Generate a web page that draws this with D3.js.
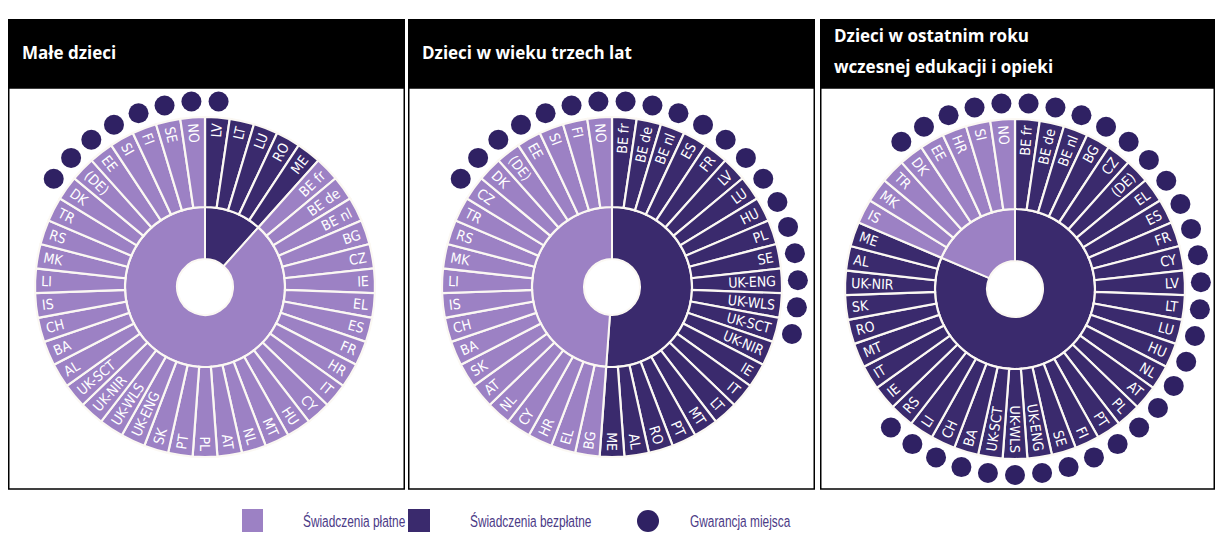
<!DOCTYPE html>
<html>
<head>
<meta charset="utf-8">
<script src="https://cdn.jsdelivr.net/npm/d3@7"></script>
<style>
  body { margin: 0; background: #fff; }
  svg { display: block; }
</style>
</head>
<body>
<div id="vis"></div>
<script>
// titles of the three wheels
var titles = [
  ["Małe dzieci"],
  ["Dzieci w wieku trzech lat"],
  ["Dzieci w ostatnim roku", "wczesnej edukacji i opieki"]
];

// clockwise from 12 o'clock; the free ones come first in each wheel
var youngOrder = ["LV","LT","LU","RO","ME","BE fr","BE de","BE nl","BG","CZ","IE","EL","ES","FR","HR","IT","CY","HU","MT","NL","AT","PL","PT","SK","UK-ENG","UK-WLS","UK-NIR","UK-SCT","AL","BA","CH","IS","LI","MK","RS","TR","DK","(DE)","EE","SI","FI","SE","NO"];
var youngFree = ["LV","LT","LU","RO","ME"];
var youngGuarantee = ["LV","DK","(DE)","EE","SI","FI","SE","NO"];

var threeOrder = ["BE fr","BE de","BE nl","ES","FR","LV","LU","HU","PL","SE","UK-ENG","UK-WLS","UK-SCT","UK-NIR","IE","IT","LT","MT","PT","RO","AL","ME","BG","EL","HR","CY","NL","AT","SK","BA","CH","IS","LI","MK","RS","TR","CZ","DK","(DE)","EE","SI","FI","NO"];
var threeFree = ["BE fr","BE de","BE nl","ES","FR","LV","LU","HU","PL","SE","UK-ENG","UK-WLS","UK-SCT","UK-NIR","IE","IT","LT","MT","PT","RO","AL","ME"];
var threeGuarantee = ["BE fr","BE de","BE nl","ES","FR","LV","LU","HU","PL","SE","UK-ENG","UK-WLS","UK-SCT","CZ","DK","(DE)","EE","SI","FI","NO"];

var lastOrder = ["BE fr","BE de","BE nl","BG","CZ","(DE)","EL","ES","FR","CY","LV","LT","LU","HU","NL","AT","PL","PT","FI","SE","UK-ENG","UK-WLS","UK-SCT","BA","CH","LI","RS","IE","IT","MT","RO","SK","UK-NIR","AL","ME","IS","MK","TR","DK","EE","HR","SI","NO"];
var lastFree = ["BE fr","BE de","BE nl","BG","CZ","(DE)","EL","ES","FR","CY","LV","LT","LU","HU","NL","AT","PL","PT","FI","SE","UK-ENG","UK-WLS","UK-SCT","BA","CH","LI","RS","IE","IT","MT","RO","SK","UK-NIR","AL","ME"];
var lastGuarantee = ["BE fr","BE de","BE nl","BG","CZ","(DE)","EL","ES","FR","CY","LV","LT","LU","HU","NL","AT","PL","PT","FI","SE","UK-ENG","UK-WLS","UK-SCT","BA","CH","LI","RS","DK","EE","HR","SI","NO"];

var legendLabels = ["Świadczenia płatne", "Świadczenia bezpłatne", "Gwarancja miejsca"];

var light = "#9c81c4", dark = "#3a2a6d", dotCol = "#2f2163", line = "#fbf8f3";

var panels = [
  {x: 8, w: 397, cx: 205, cy: 287, order: youngOrder, free: youngFree, dots: youngGuarantee},
  {x: 408, w: 407, cx: 612, cy: 287, order: threeOrder, free: threeFree, dots: threeGuarantee},
  {x: 820, w: 395, cx: 1015, cy: 289, order: lastOrder, free: lastFree, dots: lastGuarantee}
];

var svg = d3.select("#vis").append("svg").attr("width", 1222).attr("height", 538);

var rHole = 28, rMid = 80, rOut = 170, rDot = 186;

var pie = d3.pie().value(1).sort(null);
var countPie = d3.pie().value(function (d) { return d; }).sort(null);
var outerArc = d3.arc().innerRadius(rMid).outerRadius(rOut);
var innerArc = d3.arc().innerRadius(rHole).outerRadius(rMid);

panels.forEach(function (p, i) {
  // header + frame
  svg.append("rect").attr("x", p.x).attr("y", 19).attr("width", p.w).attr("height", 69).attr("fill", "#000");
  svg.append("rect").attr("x", p.x + 0.75).attr("y", 88).attr("width", p.w - 1.5).attr("height", 401)
    .attr("fill", "none").attr("stroke", "#000").attr("stroke-width", 1.5);

  var t = svg.append("text").attr("fill", "#fff").attr("font-family", "'Open Sans', sans-serif")
    .attr("font-weight", "bold").attr("font-size", 17);
  var lines = titles[i];
  var y0 = lines.length == 1 ? 59 : 42;
  lines.forEach(function (l, k) {
    t.append("tspan").attr("x", p.x + 14).attr("y", y0 + k * 31).text(l);
  });

  var g = svg.append("g").attr("transform", "translate(" + p.cx + "," + p.cy + ")");
  var slices = pie(p.order);

  // inner ring: free vs paid
  var nFree = p.free.length, nPaid = p.order.length - nFree;
  g.selectAll("path.inner").data(countPie([nFree, nPaid])).enter().append("path")
    .attr("class", "inner")
    .attr("d", innerArc)
    .attr("fill", function (d, k) { return k == 0 ? dark : light; })
    .attr("stroke", line).attr("stroke-width", 2);

  // outer ring, one wedge per country
  g.selectAll("path.outer").data(slices).enter().append("path")
    .attr("class", "outer")
    .attr("d", outerArc)
    .attr("fill", function (d) { return p.free.indexOf(d.data) >= 0 ? dark : light; })
    .attr("stroke", line).attr("stroke-width", 2.2);

  // labels
  g.selectAll("text.lab").data(slices).enter().append("text")
    .attr("class", "lab")
    .attr("fill", "#fff")
    .attr("font-family", "'DejaVu Sans Condensed', sans-serif")
    .attr("font-size", 14)
    .attr("dominant-baseline", "central")
    .attr("transform", function (d) {
      var a = (d.startAngle + d.endAngle) / 2 * 180 / Math.PI;
      var tr = "rotate(" + (a - 90) + ") translate(" + (rOut - 6) + ",0)";
      return a > 180 ? tr + " rotate(180)" : tr;
    })
    .attr("text-anchor", function (d) {
      var a = (d.startAngle + d.endAngle) / 2;
      return a > Math.PI ? "start" : "end";
    })
    .text(function (d) { return d.data; });

  // place guarantee dots
  g.selectAll("circle.dot").data(slices.filter(function (d) { return p.dots.indexOf(d.data) >= 0; }))
    .enter().append("circle")
    .attr("class", "dot")
    .attr("cx", function (d) { return rDot * Math.sin((d.startAngle + d.endAngle) / 2); })
    .attr("cy", function (d) { return -rDot * Math.cos((d.startAngle + d.endAngle) / 2); })
    .attr("r", 10)
    .attr("fill", dotCol);
});

// legend (narrow face squeezed from Liberation Sans)
var leg = svg.append("g").attr("font-family", "'Liberation Sans', Arial, sans-serif")
  .attr("font-size", 16.5).attr("fill", "#4b3a86");
leg.append("rect").attr("x", 242).attr("y", 509).attr("width", 21).attr("height", 23).attr("fill", light);
leg.append("rect").attr("x", 408).attr("y", 509).attr("width", 22).attr("height", 23).attr("fill", dark);
leg.append("circle").attr("cx", 648).attr("cy", 521).attr("r", 11).attr("fill", dotCol);
[303, 470, 690].forEach(function (x, k) {
  leg.append("text").attr("transform", "translate(" + x + ",527) scale(0.72,1)").text(legendLabels[k]);
});
</script>
</body>
</html>
